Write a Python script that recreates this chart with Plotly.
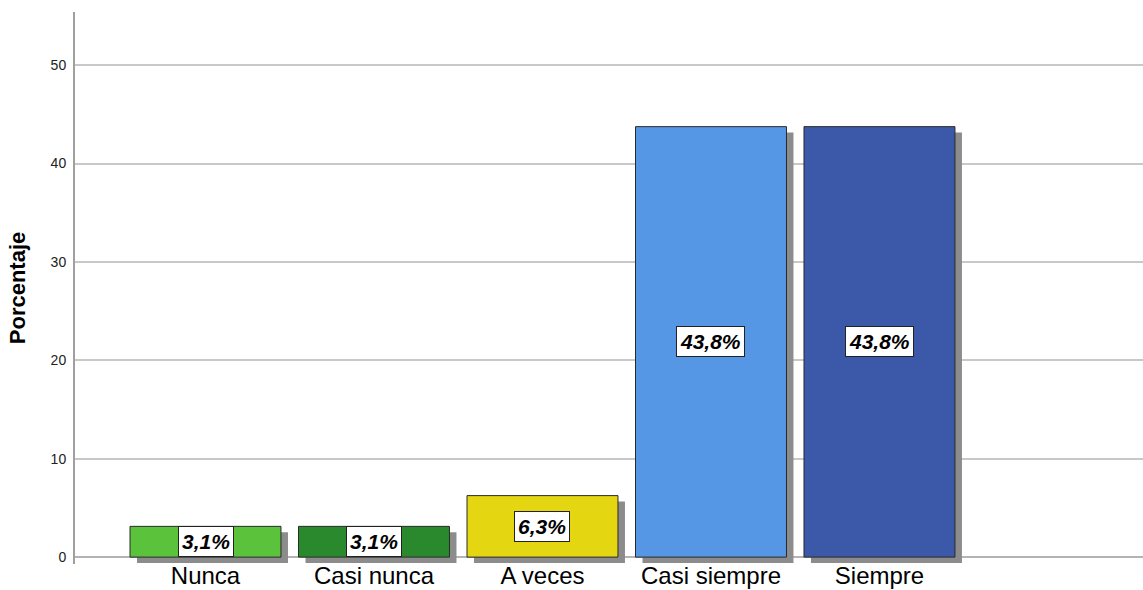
import plotly.graph_objects as go

categories = ["Nunca", "Casi nunca", "A veces", "Casi siempre", "Siempre"]
values = [3.125, 3.125, 6.25, 43.75, 43.75]
labels = ["3,1%", "3,1%", "6,3%", "43,8%", "43,8%"]
colors = ["#5bc23b", "#29892c", "#e4d610", "#5597e4", "#3c58a8"]
y_ticks = [0, 10, 20, 30, 40, 50]

BAR_W = 0.896
SHADOW_DX = 0.0415   # ~7 px
SHADOW_DY = 0.6      # ~6 px

fig = go.Figure()

# drop shadows
fig.add_trace(go.Bar(
    x=categories, y=values, base=[-SHADOW_DY] * len(values),
    width=BAR_W, offset=-BAR_W / 2 + SHADOW_DX,
    marker=dict(color="#8c8c8c", line=dict(width=0)),
    hoverinfo="skip", showlegend=False,
))
# main bars
fig.add_trace(go.Bar(
    x=categories, y=values,
    width=BAR_W, offset=-BAR_W / 2,
    marker=dict(color=colors, line=dict(color="#2a2a2a", width=1)),
    showlegend=False,
))

for c, v, t in zip(categories, values, labels):
    fig.add_annotation(
        x=c, y=v / 2, xref="x", yref="y", text=t, showarrow=False,
        font=dict(family="Liberation Sans, Arial", size=21, color="black",
                  weight="bold", style="italic"),
        bgcolor="white", bordercolor="#222222", borderwidth=1, borderpad=3,
    )

fig.update_layout(
    width=1143, height=590,
    margin=dict(l=75, r=0, t=12, b=26),
    paper_bgcolor="white", plot_bgcolor="white",
    barmode="overlay",
    font=dict(family="Liberation Sans, Arial", color="black"),
    xaxis=dict(
        type="category", range=[-0.7745, 5.564], automargin=False,
        showgrid=False, showline=False, zeroline=False, ticks="",
        ticklabelstandoff=-5,
        tickfont=dict(size=24, color="black"),
    ),
    yaxis=dict(
        range=[-0.7, 55.4], tickvals=y_ticks, automargin=False,
        showgrid=True, gridcolor="#c8c8c8", gridwidth=1.5,
        zeroline=True, zerolinecolor="#b4b4b4", zerolinewidth=2,
        showline=True, linecolor="#a0a0a0", linewidth=2,
        ticks="", ticklabelstandoff=4,
        tickfont=dict(size=14, color="#222222"),
        title=dict(text="<b>Porcentaje</b>", font=dict(size=22, color="black"), standoff=19),
    ),
)

fig.write_html("out.html")
